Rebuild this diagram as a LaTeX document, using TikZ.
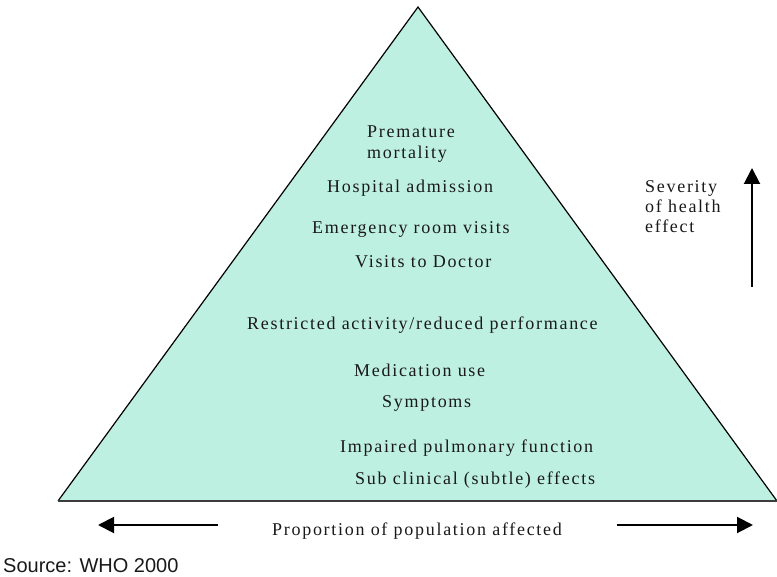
\documentclass[tikz,border=0pt]{standalone}
\usepackage{fontspec}
\setmainfont{Liberation Serif}
\newfontfamily\srcfont{Liberation Sans}
\usetikzlibrary{arrows.meta}
\definecolor{pyr}{RGB}{190,240,226}
\definecolor{ink}{RGB}{25,25,25}
\tikzset{
  lbl/.style={font=\fontsize{18}{20}\selectfont\addfontfeatures{LetterSpace=9.5}, text=ink, inner sep=0pt, anchor=base west},
  arr/.style={line width=2pt, -{Triangle[length=16pt,width=16pt]}},
}
\begin{document}
\begin{tikzpicture}[x=1pt,y=-1pt]
\useasboundingbox (0,0) rectangle (777,577);
\coordinate (apex) at (418,7);
\coordinate (bl) at (58,501);
\coordinate (br) at (777,501);
\fill[pyr] (apex) -- (bl) -- (br) -- cycle;
\draw[line width=1.2pt] (bl) -- (apex) -- (br);
\draw[line width=2.5pt, draw=ink!85] (bl) -- (br);

\node[lbl] (pm1) at (367,138) {Premature};
\node[lbl] (pm2) at (367,159) {mortality};
\node[lbl] (ha) at (327,193) {Hospital admission};
\node[lbl] (er) at (312,234) {Emergency room visits};
\node[lbl] (vd) at (355,268) {Visits to Doctor};
\node[lbl] (ra) at (247,330) {Restricted activity/reduced performance};
\node[lbl] (mu) at (354,377) {Medication use};
\node[lbl] (sy) at (382,408) {Symptoms};
\node[lbl] (ip) at (340,453) {Impaired pulmonary function};
\node[lbl] (sc) at (355,484) {Sub clinical (subtle) effects};

\node[lbl] (s1) at (645,193) {Severity};
\node[lbl] (s2) at (645,213) {of health};
\node[lbl] (s3) at (645,233) {effect};

\node[lbl] (pp) at (272,535) {Proportion of population affected};

\coordinate (la1) at (218,525);
\coordinate (la2) at (98,525);
\coordinate (ra1) at (617,525);
\coordinate (ra2) at (753,525);
\coordinate (va1) at (752,287);
\coordinate (va2) at (752,168);
\draw[arr] (la1) -- (la2);
\draw[arr] (ra1) -- (ra2);
\draw[arr] (va1) -- (va2);

\node[anchor=base west, inner sep=0pt, font=\srcfont\fontsize{20}{22}\selectfont, text=ink] (src) at (3,572) {Source: WHO 2000};
\end{tikzpicture}
\end{document}
